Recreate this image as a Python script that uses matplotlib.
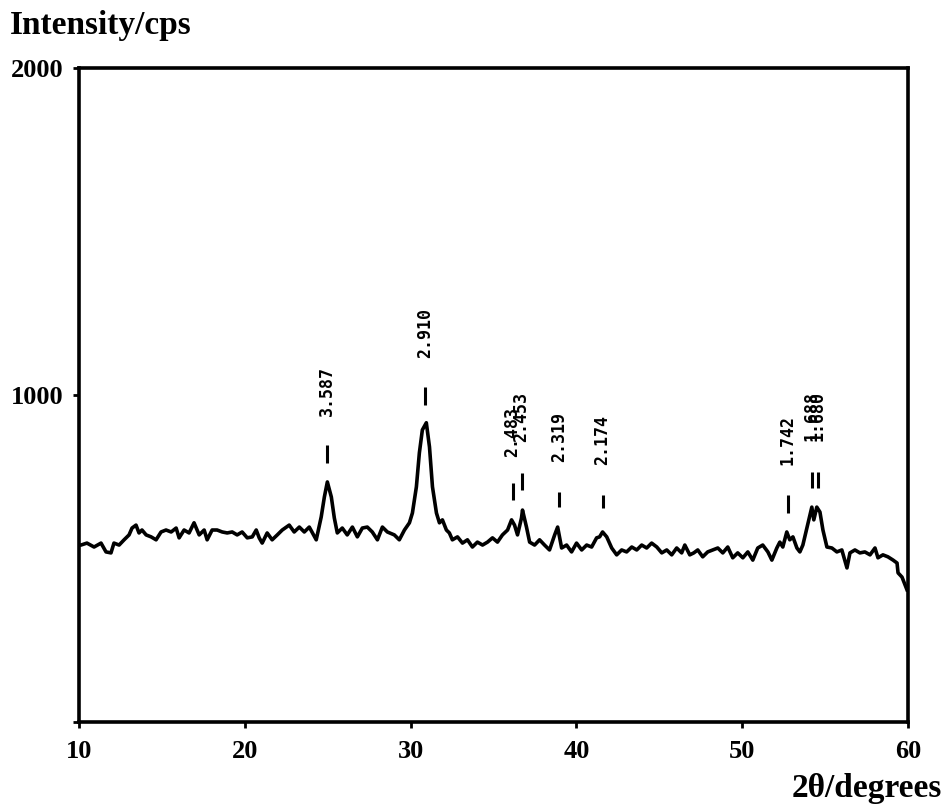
import matplotlib
matplotlib.use("Agg")
import matplotlib.pyplot as plt

# XRD pattern (2-theta in degrees, intensity in cps)
two_theta = [
    10.00, 10.12, 10.48, 10.91, 11.33, 11.63, 11.93, 12.11, 12.42, 12.72,
    13.02, 13.20, 13.44, 13.62, 13.80, 14.05, 14.35, 14.65, 14.95, 15.25,
    15.56, 15.86, 16.04, 16.34, 16.64, 16.94, 17.25, 17.55, 17.73, 18.03,
    18.33, 18.64, 18.94, 19.24, 19.54, 19.84, 20.15, 20.45, 20.69, 20.87,
    21.05, 21.35, 21.65, 21.96, 22.26, 22.68, 22.98, 23.29, 23.59, 23.89,
    24.31, 24.61, 24.80, 24.98, 25.22, 25.40, 25.58, 25.88, 26.18, 26.49,
    26.79, 27.09, 27.39, 27.69, 28.00, 28.30, 28.60, 29.02, 29.32, 29.63,
    29.93, 30.11, 30.35, 30.53, 30.71, 30.95, 31.14, 31.32, 31.56, 31.74,
    31.92, 32.16, 32.34, 32.52, 32.83, 33.13, 33.43, 33.73, 34.03, 34.34,
    34.64, 34.94, 35.24, 35.54, 35.85, 36.09, 36.27, 36.45, 36.69, 36.75,
    36.99, 37.18, 37.48, 37.78, 38.08, 38.38, 38.69, 38.87, 39.11, 39.41,
    39.71, 40.01, 40.32, 40.62, 40.92, 41.22, 41.40, 41.58, 41.83, 42.13,
    42.43, 42.73, 43.03, 43.34, 43.64, 43.94, 44.24, 44.54, 44.85, 45.15,
    45.45, 45.75, 46.05, 46.35, 46.54, 46.84, 47.08, 47.32, 47.62, 47.92,
    48.23, 48.53, 48.83, 49.13, 49.43, 49.73, 50.04, 50.34, 50.64, 50.94,
    51.24, 51.55, 51.79, 52.09, 52.27, 52.45, 52.69, 52.87, 53.06, 53.30,
    53.48, 53.66, 53.90, 54.08, 54.20, 54.32, 54.50, 54.69, 54.87, 55.11,
    55.41, 55.71, 56.01, 56.32, 56.50, 56.80, 57.10, 57.40, 57.71, 58.01,
    58.19, 58.49, 58.79, 59.10, 59.34, 59.40, 59.64, 59.94,
]
intensity = [
    541, 541, 547, 535, 547, 520, 517, 547, 541, 557,
    572, 593, 602, 578, 587, 572, 566, 557, 581, 587,
    581, 593, 563, 587, 578, 609, 572, 587, 557, 587,
    587, 581, 578, 581, 572, 581, 563, 566, 587, 563,
    547, 578, 557, 572, 587, 602, 581, 596, 581, 596,
    557, 627, 688, 734, 688, 624, 578, 593, 572, 596,
    566, 593, 596, 581, 557, 596, 581, 572, 557, 587,
    609, 639, 719, 823, 893, 915, 841, 719, 639, 609,
    618, 587, 578, 557, 566, 547, 557, 535, 550, 541,
    550, 563, 550, 572, 587, 618, 602, 572, 624, 648,
    596, 550, 541, 557, 541, 526, 572, 596, 532, 541,
    520, 547, 526, 541, 535, 563, 566, 581, 566, 532,
    511, 526, 520, 535, 526, 541, 532, 547, 535, 517,
    526, 511, 532, 517, 541, 511, 517, 526, 505, 520,
    526, 532, 517, 535, 502, 517, 502, 520, 495, 532,
    541, 520, 495, 532, 550, 535, 581, 557, 566, 532,
    520, 541, 593, 633, 657, 618, 657, 642, 587, 535,
    532, 520, 526, 471, 517, 526, 517, 520, 511, 532,
    502, 511, 505, 495, 486, 456, 443, 404,
]

# d-spacing markers printed above the peaks
peak_labels = ["3.587", "2.910", "2.483", "2.453", "2.319", "2.174",
               "1.742", "1.688", "1.680"]
peak_pos = [24.98, 30.89, 36.15, 36.69, 38.93, 41.58, 52.75, 54.20, 54.56]
mark_lo = [792, 969, 679, 709, 657, 654, 639, 716, 716]
mark_hi = [847, 1024, 731, 761, 703, 694, 694, 765, 765]
label_y = [1012, 1190, 887, 933, 872, 862, 862, 936, 936]

x_ticks = [10, 20, 30, 40, 50, 60]
y_ticks = [0, 1000, 2000]
y_ticklabels = ["", "1000", "2000"]

serif = "Liberation Serif"

fig = plt.figure(figsize=(9.47, 8.11), dpi=100)
ax = fig.add_axes([0.0834, 0.1098, 0.8754, 0.8064])

ax.plot(two_theta, intensity, color="black", lw=2.6)

ax.vlines(peak_pos, mark_lo, mark_hi, color="black", lw=2.2)
for lab, xp, yp in zip(peak_labels, peak_pos, label_y):
    ax.text(xp, yp, lab, rotation=90, ha="center", va="center",
            family="DejaVu Sans Mono", fontweight="bold", fontsize=12)

ax.set_xlim(10, 60)
ax.set_ylim(0, 2000)
ax.set_xticks(x_ticks)
ax.set_yticks(y_ticks)
ax.set_yticklabels(y_ticklabels)

for s in ax.spines.values():
    s.set_linewidth(2.6)

ax.tick_params(axis="x", direction="out", length=4, width=2, pad=9)
ax.tick_params(axis="y", direction="out", length=4, width=2, pad=7.5)
for lab in ax.get_xticklabels() + ax.get_yticklabels():
    lab.set_fontfamily(serif)
    lab.set_fontweight("bold")
    lab.set_fontsize(19)

fig.text(10 / 947, 1 - 34 / 811, "Intensity/cps", family=serif,
         fontweight="bold", fontsize=24, ha="left", va="baseline")
fig.text(942 / 947, 1 - 797 / 811, "2θ/degrees", family=serif,
         fontweight="bold", fontsize=24, ha="right", va="baseline")

fig.savefig("out.png", dpi=100)
